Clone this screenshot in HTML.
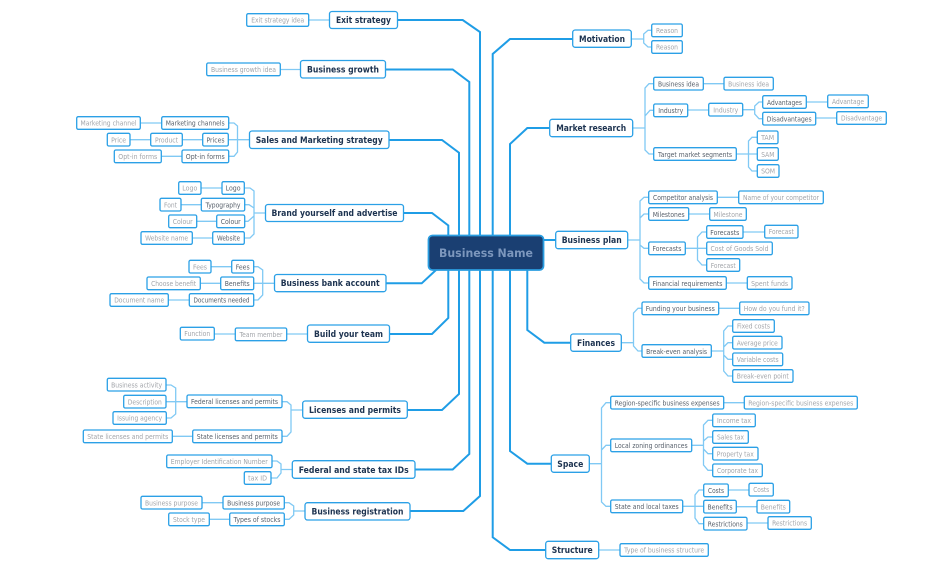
<!DOCTYPE html>
<html><head><meta charset="utf-8"><style>
html,body{margin:0;padding:0;background:#fff;width:952px;height:574px;overflow:hidden}
svg{display:block}
text{font-family:"DejaVu Sans","Liberation Sans",sans-serif;text-anchor:middle}
.m{fill:none;stroke:#1f9de6;stroke-width:2}
.c{fill:none;stroke:#80c9f4;stroke-width:1.3}
rect{fill:#fff;stroke:#2ba0e6;stroke-width:1.3}
.t1{font-size:8.5px;font-weight:bold;fill:#1d3350}
.t2{font-size:6.8px;fill:#565f6a}
.t3{font-size:6.8px;fill:#a2a5aa}
</style></head><body>
<svg width="952" height="574" viewBox="0 0 952 574" xmlns="http://www.w3.org/2000/svg">
<g class="m">
<path d="M397 20H462.7L480 32V252"/>
<path d="M385 69.5H452.7L469.3 82V252"/>
<path d="M389 140H442L459 152.7V252"/>
<path d="M403 213H432L448.3 225.5V252"/>
<path d="M386 283.3H421.7L436 270"/>
<path d="M389 334H432L448.3 318V252"/>
<path d="M407 410H442L459 394V252"/>
<path d="M415 469.5H452.7L469.3 454V252"/>
<path d="M410 511H463.3L480 496V252"/>
<path d="M573 39H510L492.7 54V537.3L510 550H546"/>
<path d="M550 128H527.3L510 144V451L527.3 463.7H551"/>
<path d="M540 240H556"/>
<path d="M527.3 260V330L544.3 342.7H571"/>
</g>
<g class="c">
<path d="M308.7 20H329.5M280.3 69.5H300.5M140.3 123H161.7M130 139.7H150.7M182.3 139.7H202.7M161.3 156.3H182"/>
<path d="M228.7 123H234L237.5 126V152L234 156.3H228.7M228.3 139.7H249.5"/>
<path d="M201 188H222M181 204.7H201.3M196.7 221.3H216.7M192.3 238H212.7"/>
<path d="M244.3 188H250L254 191V234L250 238H244.3M244.7 221.3H248L254 216M244.7 204.7H249L254 208M254 213H265.5"/>
<path d="M211 266.7H231.7M200.3 283.3H220.7M168.3 300H189.3"/>
<path d="M253.7 266.7H258L262.7 270V295L258 300H253.7M253.7 283.3H274.5"/>
<path d="M214.3 334H235.3M286.7 334H307.5"/>
<path d="M166 385H171L175.7 388V414L171 418H166M166 401.7H187"/>
<path d="M282 401.7H287L291 405V432L287 436.3H282M291 410H302.7M172.3 436.3H192.7"/>
<path d="M272 461H277L281 464V473L277 478H271M281 469.5H292.3"/>
<path d="M284.3 502.7H289L293.7 506V515L289 519.3H284.3M293.7 511H305M202 502.7H223M209.3 519.3H229.7"/>
<path d="M631.3 39H643.7M651.7 30.3H648L643.7 34V43L648 47H651.7"/>
<path d="M632.7 128H645M653.7 83.7H649L645 88V150L649 154H653.7M653.7 110.3H650L645 116"/>
<path d="M703.3 83.7H724M687.7 110H708.7"/>
<path d="M742.7 109.7H754.7M762.7 102H759L754.7 106V114L759 118.7H762.7M806.3 102H827.7M815.7 118H836.7"/>
<path d="M736.3 154H757.3M757.3 137.3H752L748.5 141V167L752 171H757.3"/>
<path d="M627.7 240H640M648.7 197.3H644L640 201V279L644 283H648.7M648.7 214H644L640 218M648.7 248.3H644L640 245"/>
<path d="M717.3 197.3H738.7M688.7 214H709.7M726.3 283H747.3"/>
<path d="M685.3 248.3H706.7M706.7 232H702L697.5 237V260L702 265H706.7M743 232H764.7"/>
<path d="M621.3 342.7H633.5M642 308.3H638L633.5 313V346L638 351H642M718.7 308.3H739.7"/>
<path d="M711.3 351H723.7M732.7 326H728L723.7 331V371L728 376H732.7M732.7 342.7H728L723.7 347M732.7 359.3H728L723.7 355"/>
<path d="M589.3 463.7H601.5M610.7 402.7H606L601.5 408V502L606 506.3H610.7M610.7 445.3H606L601.5 450M723.7 402.7H744.3"/>
<path d="M691.7 445.3H703.5M712.7 420.3H708L703.5 425V465L708 470.3H712.7M712.7 437H708L703.5 441M712.7 453.7H708L703.5 449"/>
<path d="M682.7 506.3H703.7M703.7 490H699L695 495V518L699 523.7H703.7M728.3 490H749M736.3 506.7H757M747 523H768M598.7 550H620"/>
</g>

<rect x="428.5" y="235.5" width="115" height="34.5" rx="4" style="fill:#1a3f72;stroke:#2a9de0;stroke-width:1.8"/>
<text x="486" y="257" font-size="11.5" font-weight="bold" fill="#7c97bd" textLength="94" lengthAdjust="spacingAndGlyphs">Business Name</text>

<g>
<rect x="329.5" y="11.5" width="68" height="17" rx="2.5"/><text class="t1" x="363.5" y="23" textLength="55" lengthAdjust="spacingAndGlyphs">Exit strategy</text>
<rect x="300.5" y="60.5" width="85" height="17.5" rx="2.5"/><text class="t1" x="343" y="72.5" textLength="72" lengthAdjust="spacingAndGlyphs">Business growth</text>
<rect x="249.5" y="131" width="139.5" height="17.5" rx="2.5"/><text class="t1" x="319.2" y="143" textLength="127" lengthAdjust="spacingAndGlyphs">Sales and Marketing strategy</text>
<rect x="265.5" y="204.5" width="138" height="17" rx="2.5"/><text class="t1" x="334.5" y="216" textLength="126" lengthAdjust="spacingAndGlyphs">Brand yourself and advertise</text>
<rect x="274.5" y="274.5" width="111.5" height="17.2" rx="2.5"/><text class="t1" x="330.2" y="286" textLength="99" lengthAdjust="spacingAndGlyphs">Business bank account</text>
<rect x="307.5" y="325" width="82" height="17.3" rx="2.5"/><text class="t1" x="348.5" y="337" textLength="69" lengthAdjust="spacingAndGlyphs">Build your team</text>
<rect x="302.7" y="401" width="104.6" height="17.3" rx="2.5"/><text class="t1" x="355" y="413" textLength="92" lengthAdjust="spacingAndGlyphs">Licenses and permits</text>
<rect x="292.3" y="460.7" width="122.7" height="17.6" rx="2.5"/><text class="t1" x="353.7" y="473" textLength="110" lengthAdjust="spacingAndGlyphs">Federal and state tax IDs</text>
<rect x="305" y="502.7" width="105" height="17.3" rx="2.5"/><text class="t1" x="357.5" y="514.5" textLength="92" lengthAdjust="spacingAndGlyphs">Business registration</text>
<rect x="572.7" y="30" width="58.6" height="17.3" rx="2.5"/><text class="t1" x="602" y="42" textLength="46" lengthAdjust="spacingAndGlyphs">Motivation</text>
<rect x="549.7" y="119.3" width="83" height="17.4" rx="2.5"/><text class="t1" x="591.2" y="131" textLength="70" lengthAdjust="spacingAndGlyphs">Market research</text>
<rect x="555.7" y="231.3" width="72" height="17.4" rx="2.5"/><text class="t1" x="591.7" y="243" textLength="60" lengthAdjust="spacingAndGlyphs">Business plan</text>
<rect x="570.7" y="334" width="50.6" height="17.3" rx="2.5"/><text class="t1" x="596" y="346" textLength="38" lengthAdjust="spacingAndGlyphs">Finances</text>
<rect x="551.3" y="455" width="38" height="17.3" rx="2.5"/><text class="t1" x="570.3" y="467" textLength="26" lengthAdjust="spacingAndGlyphs">Space</text>
<rect x="545.7" y="541.3" width="53" height="17.4" rx="2.5"/><text class="t1" x="572.2" y="553" textLength="41" lengthAdjust="spacingAndGlyphs">Structure</text>

<rect x="246.7" y="13.7" width="62" height="12.6" rx="1.5"/><text class="t3" x="277.7" y="22.5" textLength="53" lengthAdjust="spacingAndGlyphs">Exit strategy idea</text>
<rect x="206.7" y="63" width="73.6" height="12.7" rx="1.5"/><text class="t3" x="243.5" y="72" textLength="65" lengthAdjust="spacingAndGlyphs">Business growth idea</text>
<rect x="76.7" y="116.7" width="63.6" height="12.6" rx="1.5"/><text class="t3" x="108.5" y="125.5" textLength="56" lengthAdjust="spacingAndGlyphs">Marketing channel</text>
<rect x="161.7" y="116.7" width="67" height="12.6" rx="1.5"/><text class="t2" x="195.2" y="125.5" textLength="59" lengthAdjust="spacingAndGlyphs">Marketing channels</text>
<rect x="107.3" y="133.3" width="22.7" height="12.7" rx="1.5"/><text class="t3" x="118.6" y="142.3" textLength="15" lengthAdjust="spacingAndGlyphs">Price</text>
<rect x="150.7" y="133.3" width="31.6" height="12.7" rx="1.5"/><text class="t3" x="166.5" y="142.3" textLength="23" lengthAdjust="spacingAndGlyphs">Product</text>
<rect x="202.7" y="133.3" width="25.6" height="12.7" rx="1.5"/><text class="t2" x="215.5" y="142.3" textLength="18" lengthAdjust="spacingAndGlyphs">Prices</text>
<rect x="114.3" y="150" width="47" height="12.7" rx="1.5"/><text class="t3" x="137.8" y="159" textLength="39" lengthAdjust="spacingAndGlyphs">Opt-in forms</text>
<rect x="182" y="150" width="46.7" height="12.7" rx="1.5"/><text class="t2" x="205.3" y="159" textLength="39" lengthAdjust="spacingAndGlyphs">Opt-in forms</text>
<rect x="178.7" y="181.7" width="22.3" height="12.6" rx="1.5"/><text class="t3" x="189.8" y="190.5" textLength="15" lengthAdjust="spacingAndGlyphs">Logo</text>
<rect x="222" y="181.7" width="22.3" height="12.6" rx="1.5"/><text class="t2" x="233.1" y="190.5" textLength="15" lengthAdjust="spacingAndGlyphs">Logo</text>
<rect x="160" y="198.3" width="21" height="12.7" rx="1.5"/><text class="t3" x="170.5" y="207.3" textLength="13" lengthAdjust="spacingAndGlyphs">Font</text>
<rect x="201.3" y="198.3" width="43.4" height="12.7" rx="1.5"/><text class="t2" x="223" y="207.3" textLength="35" lengthAdjust="spacingAndGlyphs">Typography</text>
<rect x="168.7" y="215" width="28" height="12.7" rx="1.5"/><text class="t3" x="182.7" y="224" textLength="20" lengthAdjust="spacingAndGlyphs">Colour</text>
<rect x="216.7" y="215" width="28" height="12.7" rx="1.5"/><text class="t2" x="230.7" y="224" textLength="20" lengthAdjust="spacingAndGlyphs">Colour</text>
<rect x="141" y="231.7" width="51.3" height="12.6" rx="1.5"/><text class="t3" x="166.6" y="240.5" textLength="43" lengthAdjust="spacingAndGlyphs">Website name</text>
<rect x="212.7" y="231.7" width="31.6" height="12.6" rx="1.5"/><text class="t2" x="228.5" y="240.5" textLength="23" lengthAdjust="spacingAndGlyphs">Website</text>
<rect x="189" y="260.3" width="22" height="12.7" rx="1.5"/><text class="t3" x="200" y="269.3" textLength="14" lengthAdjust="spacingAndGlyphs">Fees</text>
<rect x="231.7" y="260.3" width="22" height="12.7" rx="1.5"/><text class="t2" x="242.7" y="269.3" textLength="14" lengthAdjust="spacingAndGlyphs">Fees</text>
<rect x="147" y="277" width="53.3" height="12.7" rx="1.5"/><text class="t3" x="173.6" y="286" textLength="45" lengthAdjust="spacingAndGlyphs">Choose benefit</text>
<rect x="220.7" y="277" width="33" height="12.7" rx="1.5"/><text class="t2" x="237.2" y="286" textLength="25" lengthAdjust="spacingAndGlyphs">Benefits</text>
<rect x="110" y="293.7" width="58.3" height="12.6" rx="1.5"/><text class="t3" x="139.2" y="302.5" textLength="50" lengthAdjust="spacingAndGlyphs">Document name</text>
<rect x="189.3" y="293.7" width="64.4" height="12.6" rx="1.5"/><text class="t2" x="221.5" y="302.5" textLength="56" lengthAdjust="spacingAndGlyphs">Documents needed</text>
<rect x="180.3" y="327.3" width="34" height="12.7" rx="1.5"/><text class="t3" x="197.3" y="336.2" textLength="26" lengthAdjust="spacingAndGlyphs">Function</text>
<rect x="235.3" y="328" width="51.4" height="12.7" rx="1.5"/><text class="t3" x="261" y="337" textLength="43" lengthAdjust="spacingAndGlyphs">Team member</text>
<rect x="107.3" y="378.3" width="58.7" height="12.7" rx="1.5"/><text class="t3" x="136.6" y="387.3" textLength="51" lengthAdjust="spacingAndGlyphs">Business activity</text>
<rect x="123.7" y="395.3" width="42.3" height="12.7" rx="1.5"/><text class="t3" x="144.8" y="404.3" textLength="34" lengthAdjust="spacingAndGlyphs">Description</text>
<rect x="113" y="411.7" width="53.3" height="12.6" rx="1.5"/><text class="t3" x="139.6" y="420.5" textLength="45" lengthAdjust="spacingAndGlyphs">Issuing agency</text>
<rect x="187" y="395" width="95" height="12.7" rx="1.5"/><text class="t2" x="234.5" y="404" textLength="87" lengthAdjust="spacingAndGlyphs">Federal licenses and permits</text>
<rect x="83.3" y="430" width="89" height="12.7" rx="1.5"/><text class="t3" x="127.8" y="439" textLength="81" lengthAdjust="spacingAndGlyphs">State licenses and permits</text>
<rect x="192.7" y="430" width="89.3" height="12.7" rx="1.5"/><text class="t2" x="237.3" y="439" textLength="81" lengthAdjust="spacingAndGlyphs">State licenses and permits</text>
<rect x="166.7" y="455" width="105.3" height="12.7" rx="1.5"/><text class="t3" x="219.3" y="464" textLength="97" lengthAdjust="spacingAndGlyphs">Employer Identification Number</text>
<rect x="244.3" y="471.7" width="26.7" height="12.6" rx="1.5"/><text class="t3" x="257.6" y="480.5" textLength="19" lengthAdjust="spacingAndGlyphs">tax ID</text>
<rect x="141" y="496.3" width="61" height="12.7" rx="1.5"/><text class="t3" x="171.5" y="505.3" textLength="53" lengthAdjust="spacingAndGlyphs">Business purpose</text>
<rect x="223" y="496.3" width="61.3" height="12.7" rx="1.5"/><text class="t2" x="253.6" y="505.3" textLength="53" lengthAdjust="spacingAndGlyphs">Business purpose</text>
<rect x="168.7" y="513" width="40.6" height="12.7" rx="1.5"/><text class="t3" x="189" y="522" textLength="32" lengthAdjust="spacingAndGlyphs">Stock type</text>
<rect x="229.7" y="513" width="54.6" height="12.7" rx="1.5"/><text class="t2" x="257" y="522" textLength="47" lengthAdjust="spacingAndGlyphs">Types of stocks</text>

<rect x="651.7" y="24" width="30.6" height="12.7" rx="1.5"/><text class="t3" x="667" y="33" textLength="22" lengthAdjust="spacingAndGlyphs">Reason</text>
<rect x="651.7" y="40.7" width="30.6" height="12.6" rx="1.5"/><text class="t3" x="667" y="49.7" textLength="22" lengthAdjust="spacingAndGlyphs">Reason</text>
<rect x="653.7" y="77.3" width="49.6" height="12.7" rx="1.5"/><text class="t2" x="678.5" y="86.3" textLength="41" lengthAdjust="spacingAndGlyphs">Business idea</text>
<rect x="724" y="77.3" width="49.3" height="12.7" rx="1.5"/><text class="t3" x="748.6" y="86.3" textLength="41" lengthAdjust="spacingAndGlyphs">Business idea</text>
<rect x="653.7" y="104" width="34" height="12.7" rx="1.5"/><text class="t2" x="670.7" y="113" textLength="25" lengthAdjust="spacingAndGlyphs">Industry</text>
<rect x="708.7" y="103.3" width="34" height="12.7" rx="1.5"/><text class="t3" x="725.7" y="112.3" textLength="25" lengthAdjust="spacingAndGlyphs">Industry</text>
<rect x="762.7" y="95.7" width="43.6" height="12.6" rx="1.5"/><text class="t2" x="784.5" y="105" textLength="35" lengthAdjust="spacingAndGlyphs">Advantages</text>
<rect x="762.7" y="112.3" width="53" height="12.7" rx="1.5"/><text class="t2" x="789.2" y="121.3" textLength="45" lengthAdjust="spacingAndGlyphs">Disadvantages</text>
<rect x="827.7" y="95" width="40.6" height="12.7" rx="1.5"/><text class="t3" x="848" y="104" textLength="32" lengthAdjust="spacingAndGlyphs">Advantage</text>
<rect x="836.7" y="111.7" width="49.6" height="12.6" rx="1.5"/><text class="t3" x="861.5" y="120.7" textLength="41" lengthAdjust="spacingAndGlyphs">Disadvantage</text>
<rect x="653.7" y="147.7" width="82.6" height="12.6" rx="1.5"/><text class="t2" x="695" y="157" textLength="74" lengthAdjust="spacingAndGlyphs">Target market segments</text>
<rect x="757.3" y="131" width="20.7" height="12.7" rx="1.5"/><text class="t3" x="767.6" y="140" textLength="13" lengthAdjust="spacingAndGlyphs">TAM</text>
<rect x="757.3" y="147.7" width="21" height="12.6" rx="1.5"/><text class="t3" x="767.8" y="157" textLength="13" lengthAdjust="spacingAndGlyphs">SAM</text>
<rect x="757.3" y="164.7" width="21.7" height="12.6" rx="1.5"/><text class="t3" x="768.1" y="173.5" textLength="14" lengthAdjust="spacingAndGlyphs">SOM</text>
<rect x="648.7" y="191" width="68.6" height="12.7" rx="1.5"/><text class="t2" x="683" y="200" textLength="60" lengthAdjust="spacingAndGlyphs">Competitor analysis</text>
<rect x="738.7" y="191" width="84.6" height="12.7" rx="1.5"/><text class="t3" x="781" y="200" textLength="76" lengthAdjust="spacingAndGlyphs">Name of your competitor</text>
<rect x="648.7" y="207.7" width="40" height="12.6" rx="1.5"/><text class="t2" x="668.7" y="217" textLength="32" lengthAdjust="spacingAndGlyphs">Milestones</text>
<rect x="709.7" y="207.7" width="36.6" height="12.6" rx="1.5"/><text class="t3" x="728" y="217" textLength="29" lengthAdjust="spacingAndGlyphs">Milestone</text>
<rect x="648.7" y="242" width="36.6" height="12.7" rx="1.5"/><text class="t2" x="667" y="251" textLength="29" lengthAdjust="spacingAndGlyphs">Forecasts</text>
<rect x="706.7" y="225.7" width="36.3" height="12.6" rx="1.5"/><text class="t2" x="724.8" y="235" textLength="29" lengthAdjust="spacingAndGlyphs">Forecasts</text>
<rect x="764.7" y="225.3" width="33.3" height="12.7" rx="1.5"/><text class="t3" x="781.3" y="234" textLength="25" lengthAdjust="spacingAndGlyphs">Forecast</text>
<rect x="706.7" y="242" width="65.6" height="12.7" rx="1.5"/><text class="t3" x="739.5" y="251" textLength="58" lengthAdjust="spacingAndGlyphs">Cost of Goods Sold</text>
<rect x="706.7" y="258.7" width="33" height="12.6" rx="1.5"/><text class="t3" x="723.2" y="268" textLength="25" lengthAdjust="spacingAndGlyphs">Forecast</text>
<rect x="648.7" y="276.7" width="77.6" height="12.6" rx="1.5"/><text class="t2" x="687.5" y="286" textLength="70" lengthAdjust="spacingAndGlyphs">Financial requirements</text>
<rect x="747.3" y="276.7" width="44.7" height="12.6" rx="1.5"/><text class="t3" x="769.6" y="286" textLength="37" lengthAdjust="spacingAndGlyphs">Spent funds</text>
<rect x="642" y="302" width="76.7" height="12.7" rx="1.5"/><text class="t2" x="680.3" y="311" textLength="69" lengthAdjust="spacingAndGlyphs">Funding your business</text>
<rect x="739.7" y="302" width="69.3" height="12.7" rx="1.5"/><text class="t3" x="774.3" y="311" textLength="61" lengthAdjust="spacingAndGlyphs">How do you fund it?</text>
<rect x="642" y="344.7" width="69.3" height="12.6" rx="1.5"/><text class="t2" x="676.6" y="354" textLength="61" lengthAdjust="spacingAndGlyphs">Break-even analysis</text>
<rect x="732.7" y="319.7" width="41.6" height="12.6" rx="1.5"/><text class="t3" x="753.5" y="328.5" textLength="33" lengthAdjust="spacingAndGlyphs">Fixed costs</text>
<rect x="732.7" y="336.3" width="49.3" height="12.7" rx="1.5"/><text class="t3" x="757.3" y="345.3" textLength="41" lengthAdjust="spacingAndGlyphs">Average price</text>
<rect x="732.7" y="353" width="50" height="12.7" rx="1.5"/><text class="t3" x="757.7" y="362" textLength="42" lengthAdjust="spacingAndGlyphs">Variable costs</text>
<rect x="732.7" y="369.7" width="60.3" height="12.6" rx="1.5"/><text class="t3" x="762.8" y="378.5" textLength="52" lengthAdjust="spacingAndGlyphs">Break-even point</text>
<rect x="610.7" y="396.3" width="113" height="12.7" rx="1.5"/><text class="t2" x="667.2" y="405.3" textLength="105" lengthAdjust="spacingAndGlyphs">Region-specific business expenses</text>
<rect x="744.3" y="396.3" width="113" height="12.7" rx="1.5"/><text class="t3" x="800.8" y="405.3" textLength="105" lengthAdjust="spacingAndGlyphs">Region-specific business expenses</text>
<rect x="610.7" y="439" width="81" height="12.7" rx="1.5"/><text class="t2" x="651.2" y="448" textLength="73" lengthAdjust="spacingAndGlyphs">Local zoning ordinances</text>
<rect x="712.7" y="414" width="42.6" height="12.7" rx="1.5"/><text class="t3" x="734" y="423" textLength="34" lengthAdjust="spacingAndGlyphs">Income tax</text>
<rect x="712.7" y="430.7" width="35.6" height="12.6" rx="1.5"/><text class="t3" x="730.5" y="439.5" textLength="27" lengthAdjust="spacingAndGlyphs">Sales tax</text>
<rect x="712.7" y="447.3" width="45.3" height="12.7" rx="1.5"/><text class="t3" x="735.3" y="456.3" textLength="37" lengthAdjust="spacingAndGlyphs">Property tax</text>
<rect x="712.7" y="464" width="49.6" height="12.7" rx="1.5"/><text class="t3" x="737.5" y="473" textLength="41" lengthAdjust="spacingAndGlyphs">Corporate tax</text>
<rect x="610.7" y="500" width="72" height="12.7" rx="1.5"/><text class="t2" x="646.7" y="509" textLength="64" lengthAdjust="spacingAndGlyphs">State and local taxes</text>
<rect x="703.7" y="484" width="24.6" height="12.7" rx="1.5"/><text class="t2" x="716" y="493" textLength="16" lengthAdjust="spacingAndGlyphs">Costs</text>
<rect x="749" y="483.3" width="24.3" height="12.7" rx="1.5"/><text class="t3" x="761.2" y="492" textLength="16" lengthAdjust="spacingAndGlyphs">Costs</text>
<rect x="703.7" y="500.3" width="32.6" height="12.7" rx="1.5"/><text class="t2" x="720" y="509.3" textLength="25" lengthAdjust="spacingAndGlyphs">Benefits</text>
<rect x="757" y="500.3" width="32.7" height="12.7" rx="1.5"/><text class="t3" x="773.3" y="509.3" textLength="25" lengthAdjust="spacingAndGlyphs">Benefits</text>
<rect x="703.7" y="517.3" width="43.3" height="12.7" rx="1.5"/><text class="t2" x="725.3" y="526.3" textLength="35" lengthAdjust="spacingAndGlyphs">Restrictions</text>
<rect x="768" y="516.7" width="43.3" height="12.6" rx="1.5"/><text class="t3" x="789.6" y="525.5" textLength="35" lengthAdjust="spacingAndGlyphs">Restrictions</text>
<rect x="620" y="543.7" width="88.3" height="12.6" rx="1.5"/><text class="t3" x="664.1" y="552.5" textLength="80" lengthAdjust="spacingAndGlyphs">Type of business structure</text>
</g>
</svg>
</body></html>
